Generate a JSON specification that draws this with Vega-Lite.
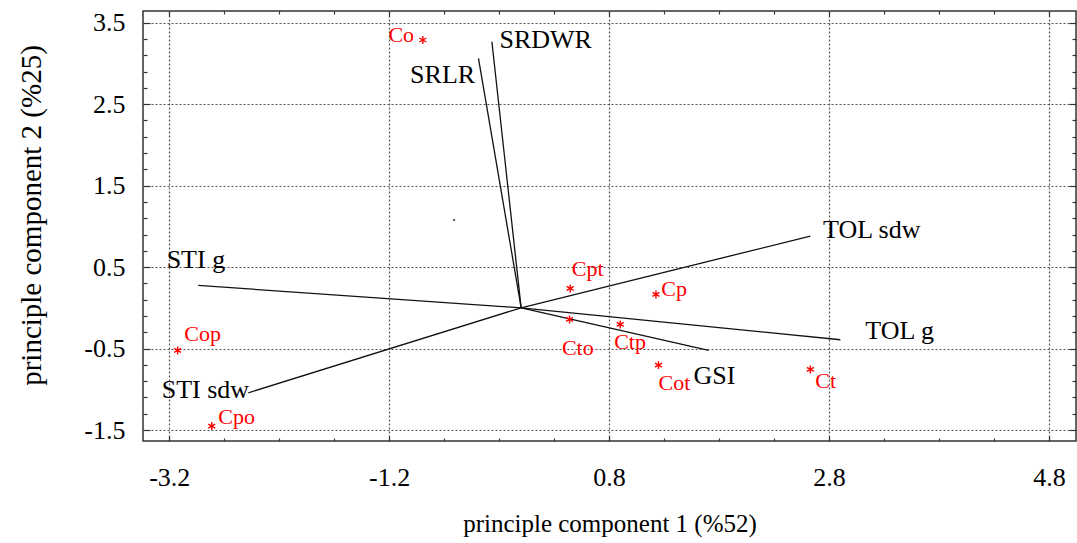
{
  "$schema": "https://vega.github.io/schema/vega-lite/v6.json",
  "width": 933,
  "height": 430,
  "autosize": {"type": "none"},
  "padding": {"left": 143, "top": 11, "right": 1, "bottom": 102},
  "background": "white",
  "config": {
    "view": {"stroke": "#333", "strokeWidth": 1.5},
    "axis": {
      "domain": false,
      "grid": false,
      "labels": false,
      "title": null,
      "labelFont": "Liberation Serif",
      "titleFont": "Liberation Serif",
      "labelColor": "black",
      "titleColor": "black",
      "titleFontWeight": "normal",
      "tickColor": "#333",
      "tickWidth": 1.2,
      "gridColor": "#555",
      "gridDash": [2, 2],
      "gridWidth": 1.2
    }
  },
  "datasets": {
    "vectors": [
      {"name": "SRDWR", "px": -0.266, "py": 3.267, "lx": -0.197, "ly": 3.189},
      {"name": "SRLR", "px": -0.388, "py": 3.063, "lx": -1.010, "ly": 2.756},
      {"name": "STI g", "px": -2.936, "py": 0.275, "lx": -3.224, "ly": 0.491},
      {"name": "STI sdw", "px": -2.481, "py": -1.043, "lx": -3.269, "ly": -1.104},
      {"name": "TOL sdw", "px": 2.630, "py": 0.881, "lx": 2.745, "ly": 0.860},
      {"name": "TOL g", "px": 2.903, "py": -0.392, "lx": 3.130, "ly": -0.388},
      {"name": "GSI", "px": 1.705, "py": -0.523, "lx": 1.568, "ly": -0.933}
    ],
    "samples": [
      {"name": "Co", "px": -0.894, "py": 3.288, "lx": -1.207, "ly": 3.267},
      {"name": "Cpt", "px": 0.446, "py": 0.238, "lx": 0.461, "ly": 0.389},
      {"name": "Cp", "px": 1.226, "py": 0.165, "lx": 1.274, "ly": 0.144},
      {"name": "Cto", "px": 0.440, "py": -0.142, "lx": 0.371, "ly": -0.580},
      {"name": "Ctp", "px": 0.901, "py": -0.204, "lx": 0.846, "ly": -0.510},
      {"name": "Cot", "px": 1.249, "py": -0.703, "lx": 1.249, "ly": -1.014},
      {"name": "Ct", "px": 2.630, "py": -0.756, "lx": 2.675, "ly": -0.982},
      {"name": "Cop", "px": -3.124, "py": -0.523, "lx": -3.064, "ly": -0.408},
      {"name": "Cpo", "px": -2.814, "py": -1.452, "lx": -2.754, "ly": -1.424}
    ],
    "speck": [
      {"px": -0.610, "py": 1.078}
    ]
  },
  "layer": [
    {
      "data": {"name": "vectors"},
      "mark": {"type": "rule", "color": "#111", "strokeWidth": 1.3},
      "encoding": {
        "x": {"field": "px", "type": "quantitative",
              "scale": {"domain": [-3.439, 5.046], "nice": false, "zero": false},
              "axis": {"orient": "top", "values": [-2.7, -2.2, -1.7, -0.7, -0.2, 0.3, 1.3, 1.8, 2.3, 3.3, 3.8, 4.3], "tickSize": -3}},
        "y": {"field": "py", "type": "quantitative",
              "scale": {"domain": [-1.635, 3.644], "nice": false, "zero": false},
              "axis": {"orient": "right", "values": [3.3, 3.1, 2.9, 2.7, 2.3, 2.1, 1.9, 1.7, 1.3, 1.1, 0.9, 0.7, 0.3, 0.1, -0.1, -0.3, -0.7, -0.9, -1.1, -1.3], "tickSize": -4}},
        "x2": {"datum": 0},
        "y2": {"datum": 0}
      }
    },
    {
      "data": {"name": "vectors"},
      "mark": {"type": "text", "align": "left", "baseline": "alphabetic", "font": "Liberation Serif", "fontSize": 26, "color": "black"},
      "encoding": {
        "x": {"field": "lx", "type": "quantitative",
              "scale": {"domain": [-3.439, 5.046], "nice": false, "zero": false},
              "axis": {"orient": "bottom", "values": [-3.2, -1.2, 0.8, 2.8, 4.8], "ticks": false, "grid": true, "labels": true,
                       "labelExpr": "datum.value < 0 ? '-' + format(-datum.value, '.1f') : format(datum.value, '.1f')",
                       "labelFont": "Liberation Serif", "labelFontSize": 26, "labelPadding": 23,
                       "title": "principle component 1 (%52)", "titleFont": "Liberation Serif", "titleFontSize": 25, "titleBaseline": "middle", "titleY": 82}},
        "y": {"field": "ly", "type": "quantitative",
              "scale": {"domain": [-1.635, 3.644], "nice": false, "zero": false},
              "axis": {"orient": "left", "values": [3.5, 2.5, 1.5, 0.5, -0.5, -1.5], "ticks": false, "grid": true, "labels": true,
                       "labelExpr": "datum.value < 0 ? '-' + format(-datum.value, '.1f') : format(datum.value, '.1f')",
                       "labelFont": "Liberation Serif", "labelFontSize": 26, "labelPadding": 18,
                       "title": "principle component 2 (%25)", "titleFont": "Liberation Serif", "titleFontSize": 29, "titleAngle": -90,
                       "titleBaseline": "middle", "titleAlign": "center", "titleX": -112, "titleY": 204}},
        "text": {"field": "name"}
      }
    },
    {
      "data": {"name": "samples"},
      "mark": {"type": "point", "shape": "M0,-1L0,1M-0.87,-0.5L0.87,0.5M-0.87,0.5L0.87,-0.5", "filled": false, "color": "#ff0000", "strokeWidth": 1.4, "size": 64, "opacity": 1},
      "encoding": {
        "x": {"field": "px", "type": "quantitative",
              "scale": {"domain": [-3.439, 5.046], "nice": false, "zero": false},
              "axis": {"orient": "top", "values": [-3.2, -1.2, 0.8, 2.8, 4.8], "tickSize": -5}},
        "y": {"field": "py", "type": "quantitative",
              "scale": {"domain": [-1.635, 3.644], "nice": false, "zero": false},
              "axis": {"orient": "right", "values": [3.5, 2.5, 1.5, 0.5, -0.5, -1.5], "tickSize": -7}}
      }
    },
    {
      "data": {"name": "samples"},
      "mark": {"type": "text", "align": "left", "baseline": "alphabetic", "font": "Liberation Serif", "fontSize": 22, "color": "#ff0000"},
      "encoding": {
        "x": {"field": "lx", "type": "quantitative",
              "scale": {"domain": [-3.439, 5.046], "nice": false, "zero": false},
              "axis": {"orient": "bottom", "values": [-2.7, -2.2, -1.7, -0.7, -0.2, 0.3, 1.3, 1.8, 2.3, 3.3, 3.8, 4.3], "tickSize": -3}},
        "y": {"field": "ly", "type": "quantitative",
              "scale": {"domain": [-1.635, 3.644], "nice": false, "zero": false},
              "axis": {"orient": "left", "values": [3.3, 3.1, 2.9, 2.7, 2.3, 2.1, 1.9, 1.7, 1.3, 1.1, 0.9, 0.7, 0.3, 0.1, -0.1, -0.3, -0.7, -0.9, -1.1, -1.3], "tickSize": -4}},
        "text": {"field": "name"}
      }
    },
    {
      "data": {"name": "speck"},
      "mark": {"type": "circle", "color": "#444", "size": 5, "opacity": 1},
      "encoding": {
        "x": {"field": "px", "type": "quantitative",
              "scale": {"domain": [-3.439, 5.046], "nice": false, "zero": false},
              "axis": {"orient": "bottom", "values": [-3.2, -1.2, 0.8, 2.8, 4.8], "tickSize": -5}},
        "y": {"field": "py", "type": "quantitative",
              "scale": {"domain": [-1.635, 3.644], "nice": false, "zero": false},
              "axis": {"orient": "left", "values": [3.5, 2.5, 1.5, 0.5, -0.5, -1.5], "tickSize": -7}}
      }
    }
  ],
  "resolve": {"axis": {"x": "independent", "y": "independent"}}
}
